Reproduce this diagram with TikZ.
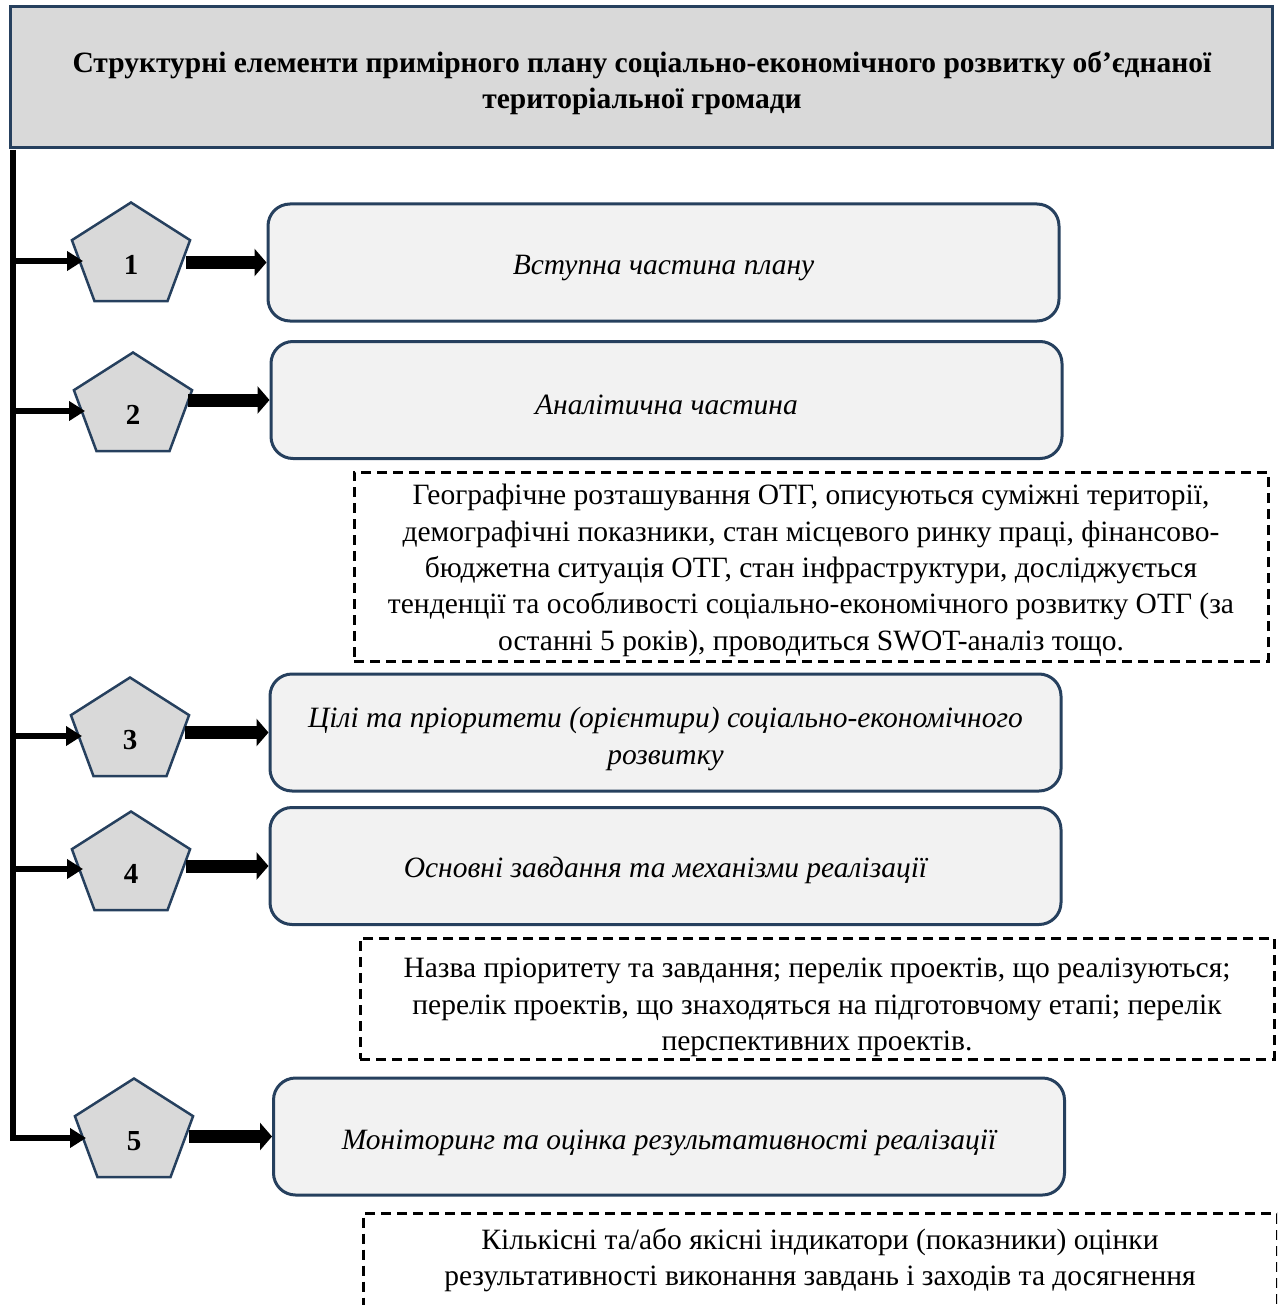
\documentclass[tikz,border=0pt]{standalone}
\usepackage{fontspec}
\setmainfont{Liberation Serif}
\usetikzlibrary{arrows.meta,shapes.geometric}
\definecolor{bord}{RGB}{38,64,94}
\definecolor{hdr}{RGB}{217,217,217}
\definecolor{boxfill}{RGB}{242,242,242}
\tikzset{
 hdrbox/.style={draw=bord, line width=3pt, fill=hdr, minimum width=1262pt, minimum height=141pt, inner sep=0pt},
 hdrtext/.style={align=center, inner sep=0pt, font=\fontsize{29.5}{36.3}\selectfont\bfseries},
 stage/.style={draw=bord, line width=3pt, fill=boxfill, rounded corners=22pt, minimum width=791pt, minimum height=117pt, inner sep=0pt},
 stagetext/.style={align=center, inner sep=0pt, font=\fontsize{29.5}{36.3}\selectfont\itshape},
 note/.style={draw=black, line width=3pt, dash pattern=on 10pt off 6pt, minimum width=914pt, inner sep=0pt},
 notetext/.style={align=center, inner sep=0pt, font=\fontsize{29.5}{36.3}\selectfont},
 pent/.style={draw=bord, line width=2.5pt, fill=hdr, regular polygon, regular polygon sides=5, minimum size=109pt, inner sep=0pt, xscale=1.14, transform shape},
 num/.style={font=\fontsize{29}{30}\selectfont\bfseries, inner sep=0pt},
 thinarr/.style={line width=6pt, -{Triangle[length=16pt,width=19pt]}},
 thickarr/.style={line width=13pt, -{Triangle[length=12pt,width=27pt]}},
}
\begin{document}
\begin{tikzpicture}[x=1pt,y=-1pt]
\useasboundingbox (0,0) rectangle (1277,1305);
\clip (0,0) rectangle (1277,1305);
% header
\node[hdrbox] (head) at (641,77.5) {};
\node[hdrtext] (title) at (642,83) {Структурні елементи примірного плану соціально-економічного розвитку об’єднаної\\територіальної громади};
% stage boxes
\node[stage] (b1) at (663.5,262.5) {};
\node[stage] (b2) at (666.5,400) {};
\node[stage] (b3) at (665.5,732.5) {};
\node[stage] (b4) at (665.5,866) {};
\node[stage] (b5) at (669,1136.5) {};
\node[stagetext] (s1) at (663.5,268) {Вступна частина плану};
\node[stagetext] (s2) at (666.5,405) {Аналітична частина};
\node[stagetext] (s3) at (665.5,739) {Цілі та пріоритети (орієнтири) соціально-економічного\\розвитку};
\node[stagetext] (s4) at (665.5,870) {Основні завдання та механізми реалізації};
\node[stagetext] (s5) at (669,1143) {Моніторинг та оцінка результативності реалізації};
% notes
\node[note, minimum height=189pt] (d1) at (811,566.5) {};
\node[note, minimum height=121pt] (d2) at (817,998.5) {};
\node[note, minimum height=200pt, anchor=north] (d3) at (820,1212) {};
\node[notetext] (n1) at (811,570.5) {Географічне розташування ОТГ, описуються суміжні території,\\демографічні показники, стан місцевого ринку праці, фінансово-\\бюджетна ситуація ОТГ, стан інфраструктури, досліджується\\тенденції та особливості соціально-економічного розвитку ОТГ (за\\останні 5 років), проводиться SWOT-аналіз тощо.};
\node[notetext] (n2) at (817,1007.5) {Назва пріоритету та завдання; перелік проектів, що реалізуються;\\перелік проектів, що знаходяться на підготовчому етапі; перелік\\перспективних проектів.};
\node[notetext, anchor=north] (n3) at (820,1228) {Кількісні та/або якісні індикатори (показники) оцінки\\результативності виконання завдань і заходів та досягнення};
% pentagons
\node[pent] (p1) at (131,257) {};
\node[pent] (p2) at (133,407) {};
\node[pent] (p3) at (130,732) {};
\node[pent] (p4) at (131,866) {};
\node[pent] (p5) at (134,1133) {};
\node[num] (m1) at ([yshift=-8pt]p1.center) {1};
\node[num] (m2) at ([yshift=-8pt]p2.center) {2};
\node[num] (m3) at ([yshift=-8pt]p3.center) {3};
\node[num] (m4) at ([yshift=-8pt]p4.center) {4};
\node[num] (m5) at ([yshift=-8pt]p5.center) {5};
% trunk
\coordinate (top) at (13,150);
\coordinate (c1) at (13,261);
\coordinate (c2) at (13,411);
\coordinate (c3) at (13,736);
\coordinate (c4) at (13,869);
\coordinate (c5) at (13,1138);
\coordinate (e1) at (83,261);
\coordinate (e2) at (85,411);
\coordinate (e3) at (82,736);
\coordinate (e4) at (83,869);
\coordinate (e5) at (86,1138);
\draw[thinarr, line join=miter] (top) -- (c5) -- (e5);
\draw[thinarr] (c1) -- (e1);
\draw[thinarr] (c2) -- (e2);
\draw[thinarr] (c3) -- (e3);
\draw[thinarr] (c4) -- (e4);
% thick arrows
\draw[thickarr] (b1.west -| 186,0) -- (b1.west);
\draw[thickarr] (b2.west -| 188,0) -- (b2.west);
\draw[thickarr] (b3.west -| 185,0) -- (b3.west);
\draw[thickarr] (b4.west -| 186,0) -- (b4.west);
\draw[thickarr] (b5.west -| 189,0) -- (b5.west);
\end{tikzpicture}
\end{document}
